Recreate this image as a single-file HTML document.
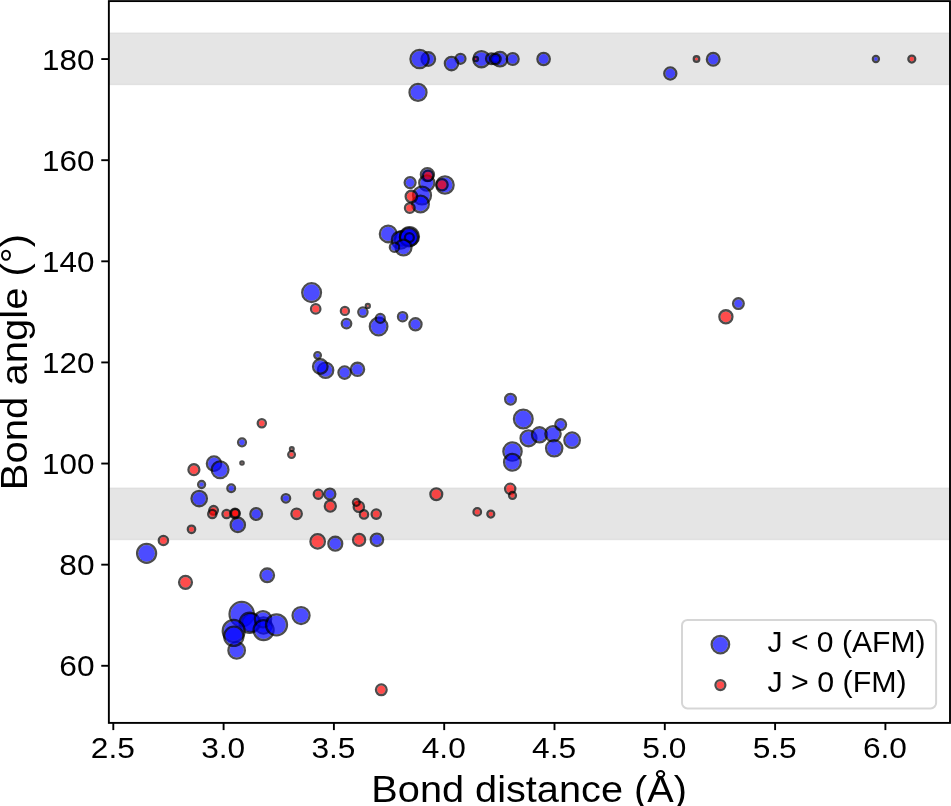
<!DOCTYPE html>
<html><head><meta charset="utf-8"><title>Bond angle vs bond distance</title>
<style>html,body{margin:0;padding:0;background:#fff;}svg{display:block;}text{font-family:"Liberation Sans",sans-serif;fill:#000;}</style>
</head><body>
<svg width="951" height="806" viewBox="0 0 951 806" style="will-change:transform">
<rect x="0" y="0" width="951" height="806" fill="#fff"/>
<rect x="108.86" y="32.49" width="841.14" height="52.66" fill="#e5e5e5"/>
<rect x="108.86" y="32.99" width="841.14" height="1" fill="#dfdfdf"/>
<rect x="108.86" y="83.65" width="841.14" height="1" fill="#dfdfdf"/>
<rect x="108.86" y="487.53" width="841.14" height="52.66" fill="#e5e5e5"/>
<rect x="108.86" y="488.03" width="841.14" height="1" fill="#dfdfdf"/>
<rect x="108.86" y="538.69" width="841.14" height="1" fill="#dfdfdf"/>
<g>
<circle cx="428.30" cy="59.00" r="5.60" fill="#0000ff" fill-opacity="0.7"/><circle cx="428.30" cy="59.00" r="6.75" fill="none" stroke="#000" stroke-opacity="0.7" stroke-width="2.3"/>
<circle cx="419.60" cy="59.00" r="8.00" fill="#0000ff" fill-opacity="0.7"/><circle cx="419.60" cy="59.00" r="9.15" fill="none" stroke="#000" stroke-opacity="0.7" stroke-width="2.3"/>
<circle cx="460.50" cy="58.80" r="3.80" fill="#0000ff" fill-opacity="0.7"/><circle cx="460.50" cy="58.80" r="4.95" fill="none" stroke="#000" stroke-opacity="0.7" stroke-width="2.3"/>
<circle cx="451.50" cy="63.60" r="5.50" fill="#0000ff" fill-opacity="0.7"/><circle cx="451.50" cy="63.60" r="6.65" fill="none" stroke="#000" stroke-opacity="0.7" stroke-width="2.3"/>
<circle cx="481.45" cy="59.15" r="6.95" fill="#0000ff" fill-opacity="0.7"/><circle cx="481.45" cy="59.15" r="8.10" fill="none" stroke="#000" stroke-opacity="0.7" stroke-width="2.3"/>
<circle cx="491.40" cy="58.70" r="4.20" fill="#0000ff" fill-opacity="0.7"/><circle cx="491.40" cy="58.70" r="5.35" fill="none" stroke="#000" stroke-opacity="0.7" stroke-width="2.3"/>
<circle cx="500.00" cy="59.20" r="6.10" fill="#0000ff" fill-opacity="0.7"/><circle cx="500.00" cy="59.20" r="7.25" fill="none" stroke="#000" stroke-opacity="0.7" stroke-width="2.3"/>
<circle cx="495.40" cy="59.00" r="2.60" fill="#0000ff" fill-opacity="0.7"/><circle cx="495.40" cy="59.00" r="3.75" fill="none" stroke="#000" stroke-opacity="0.7" stroke-width="2.3"/>
<circle cx="495.35" cy="59.00" r="4.15" fill="#0000ff" fill-opacity="0.7"/><circle cx="495.35" cy="59.00" r="5.30" fill="none" stroke="#000" stroke-opacity="0.7" stroke-width="2.3"/>
<circle cx="512.70" cy="59.00" r="4.80" fill="#0000ff" fill-opacity="0.7"/><circle cx="512.70" cy="59.00" r="5.95" fill="none" stroke="#000" stroke-opacity="0.7" stroke-width="2.3"/>
<circle cx="543.60" cy="59.00" r="5.05" fill="#0000ff" fill-opacity="0.7"/><circle cx="543.60" cy="59.00" r="6.20" fill="none" stroke="#000" stroke-opacity="0.7" stroke-width="2.3"/>
<circle cx="670.30" cy="73.50" r="4.90" fill="#0000ff" fill-opacity="0.7"/><circle cx="670.30" cy="73.50" r="6.05" fill="none" stroke="#000" stroke-opacity="0.7" stroke-width="2.3"/>
<circle cx="713.20" cy="59.20" r="5.20" fill="#0000ff" fill-opacity="0.7"/><circle cx="713.20" cy="59.20" r="6.35" fill="none" stroke="#000" stroke-opacity="0.7" stroke-width="2.3"/>
<circle cx="875.90" cy="59.00" r="1.90" fill="#0000ff" fill-opacity="0.7"/><circle cx="875.90" cy="59.00" r="3.05" fill="none" stroke="#000" stroke-opacity="0.7" stroke-width="2.3"/>
<circle cx="418.00" cy="92.40" r="7.35" fill="#0000ff" fill-opacity="0.7"/><circle cx="418.00" cy="92.40" r="8.50" fill="none" stroke="#000" stroke-opacity="0.7" stroke-width="2.3"/>
<circle cx="410.10" cy="182.60" r="4.30" fill="#0000ff" fill-opacity="0.7"/><circle cx="410.10" cy="182.60" r="5.45" fill="none" stroke="#000" stroke-opacity="0.7" stroke-width="2.3"/>
<circle cx="427.40" cy="174.60" r="5.40" fill="#0000ff" fill-opacity="0.7"/><circle cx="427.40" cy="174.60" r="6.55" fill="none" stroke="#000" stroke-opacity="0.7" stroke-width="2.3"/>
<circle cx="426.80" cy="183.00" r="6.40" fill="#0000ff" fill-opacity="0.7"/><circle cx="426.80" cy="183.00" r="7.55" fill="none" stroke="#000" stroke-opacity="0.7" stroke-width="2.3"/>
<circle cx="445.00" cy="185.00" r="7.50" fill="#0000ff" fill-opacity="0.7"/><circle cx="445.00" cy="185.00" r="8.65" fill="none" stroke="#000" stroke-opacity="0.7" stroke-width="2.3"/>
<circle cx="422.00" cy="195.50" r="7.80" fill="#0000ff" fill-opacity="0.7"/><circle cx="422.00" cy="195.50" r="8.95" fill="none" stroke="#000" stroke-opacity="0.7" stroke-width="2.3"/>
<circle cx="420.50" cy="204.00" r="7.20" fill="#0000ff" fill-opacity="0.7"/><circle cx="420.50" cy="204.00" r="8.35" fill="none" stroke="#000" stroke-opacity="0.7" stroke-width="2.3"/>
<circle cx="409.40" cy="237.40" r="5.80" fill="#0000ff" fill-opacity="0.7"/><circle cx="409.40" cy="237.40" r="6.95" fill="none" stroke="#000" stroke-opacity="0.7" stroke-width="2.3"/>
<circle cx="388.20" cy="233.90" r="7.20" fill="#0000ff" fill-opacity="0.7"/><circle cx="388.20" cy="233.90" r="8.35" fill="none" stroke="#000" stroke-opacity="0.7" stroke-width="2.3"/>
<circle cx="402.00" cy="238.50" r="6.00" fill="#0000ff" fill-opacity="0.7"/><circle cx="402.00" cy="238.50" r="7.15" fill="none" stroke="#000" stroke-opacity="0.7" stroke-width="2.3"/>
<circle cx="400.50" cy="240.00" r="7.50" fill="#0000ff" fill-opacity="0.7"/><circle cx="400.50" cy="240.00" r="8.65" fill="none" stroke="#000" stroke-opacity="0.7" stroke-width="2.3"/>
<circle cx="409.50" cy="236.50" r="8.30" fill="#0000ff" fill-opacity="0.7"/><circle cx="409.50" cy="236.50" r="9.45" fill="none" stroke="#000" stroke-opacity="0.7" stroke-width="2.3"/>
<circle cx="409.00" cy="237.30" r="8.00" fill="#0000ff" fill-opacity="0.7"/><circle cx="409.00" cy="237.30" r="9.15" fill="none" stroke="#000" stroke-opacity="0.7" stroke-width="2.3"/>
<circle cx="409.40" cy="237.60" r="3.30" fill="#0000ff" fill-opacity="0.7"/><circle cx="409.40" cy="237.60" r="4.45" fill="none" stroke="#000" stroke-opacity="0.7" stroke-width="2.3"/>
<circle cx="403.50" cy="247.50" r="6.80" fill="#0000ff" fill-opacity="0.7"/><circle cx="403.50" cy="247.50" r="7.95" fill="none" stroke="#000" stroke-opacity="0.7" stroke-width="2.3"/>
<circle cx="394.50" cy="247.20" r="3.50" fill="#0000ff" fill-opacity="0.7"/><circle cx="394.50" cy="247.20" r="4.65" fill="none" stroke="#000" stroke-opacity="0.7" stroke-width="2.3"/>
<circle cx="311.60" cy="292.60" r="8.25" fill="#0000ff" fill-opacity="0.7"/><circle cx="311.60" cy="292.60" r="9.40" fill="none" stroke="#000" stroke-opacity="0.7" stroke-width="2.3"/>
<circle cx="346.50" cy="323.60" r="3.60" fill="#0000ff" fill-opacity="0.7"/><circle cx="346.50" cy="323.60" r="4.75" fill="none" stroke="#000" stroke-opacity="0.7" stroke-width="2.3"/>
<circle cx="362.90" cy="312.10" r="3.50" fill="#0000ff" fill-opacity="0.7"/><circle cx="362.90" cy="312.10" r="4.65" fill="none" stroke="#000" stroke-opacity="0.7" stroke-width="2.3"/>
<circle cx="378.60" cy="326.55" r="7.65" fill="#0000ff" fill-opacity="0.7"/><circle cx="378.60" cy="326.55" r="8.80" fill="none" stroke="#000" stroke-opacity="0.7" stroke-width="2.3"/>
<circle cx="380.30" cy="318.40" r="3.30" fill="#0000ff" fill-opacity="0.7"/><circle cx="380.30" cy="318.40" r="4.45" fill="none" stroke="#000" stroke-opacity="0.7" stroke-width="2.3"/>
<circle cx="402.60" cy="316.70" r="3.50" fill="#0000ff" fill-opacity="0.7"/><circle cx="402.60" cy="316.70" r="4.65" fill="none" stroke="#000" stroke-opacity="0.7" stroke-width="2.3"/>
<circle cx="415.50" cy="324.30" r="4.90" fill="#0000ff" fill-opacity="0.7"/><circle cx="415.50" cy="324.30" r="6.05" fill="none" stroke="#000" stroke-opacity="0.7" stroke-width="2.3"/>
<circle cx="317.60" cy="355.35" r="2.15" fill="#0000ff" fill-opacity="0.7"/><circle cx="317.60" cy="355.35" r="3.30" fill="none" stroke="#000" stroke-opacity="0.7" stroke-width="2.3"/>
<circle cx="325.60" cy="370.20" r="6.50" fill="#0000ff" fill-opacity="0.7"/><circle cx="325.60" cy="370.20" r="7.65" fill="none" stroke="#000" stroke-opacity="0.7" stroke-width="2.3"/>
<circle cx="320.30" cy="366.50" r="6.10" fill="#0000ff" fill-opacity="0.7"/><circle cx="320.30" cy="366.50" r="7.25" fill="none" stroke="#000" stroke-opacity="0.7" stroke-width="2.3"/>
<circle cx="344.60" cy="372.60" r="5.00" fill="#0000ff" fill-opacity="0.7"/><circle cx="344.60" cy="372.60" r="6.15" fill="none" stroke="#000" stroke-opacity="0.7" stroke-width="2.3"/>
<circle cx="357.50" cy="369.35" r="5.45" fill="#0000ff" fill-opacity="0.7"/><circle cx="357.50" cy="369.35" r="6.60" fill="none" stroke="#000" stroke-opacity="0.7" stroke-width="2.3"/>
<circle cx="738.40" cy="303.60" r="4.20" fill="#0000ff" fill-opacity="0.7"/><circle cx="738.40" cy="303.60" r="5.35" fill="none" stroke="#000" stroke-opacity="0.7" stroke-width="2.3"/>
<circle cx="510.50" cy="399.20" r="4.20" fill="#0000ff" fill-opacity="0.7"/><circle cx="510.50" cy="399.20" r="5.35" fill="none" stroke="#000" stroke-opacity="0.7" stroke-width="2.3"/>
<circle cx="523.30" cy="419.00" r="8.20" fill="#0000ff" fill-opacity="0.7"/><circle cx="523.30" cy="419.00" r="9.35" fill="none" stroke="#000" stroke-opacity="0.7" stroke-width="2.3"/>
<circle cx="512.50" cy="451.50" r="8.00" fill="#0000ff" fill-opacity="0.7"/><circle cx="512.50" cy="451.50" r="9.15" fill="none" stroke="#000" stroke-opacity="0.7" stroke-width="2.3"/>
<circle cx="512.40" cy="462.30" r="7.20" fill="#0000ff" fill-opacity="0.7"/><circle cx="512.40" cy="462.30" r="8.35" fill="none" stroke="#000" stroke-opacity="0.7" stroke-width="2.3"/>
<circle cx="528.50" cy="438.30" r="6.80" fill="#0000ff" fill-opacity="0.7"/><circle cx="528.50" cy="438.30" r="7.95" fill="none" stroke="#000" stroke-opacity="0.7" stroke-width="2.3"/>
<circle cx="539.50" cy="434.80" r="6.40" fill="#0000ff" fill-opacity="0.7"/><circle cx="539.50" cy="434.80" r="7.55" fill="none" stroke="#000" stroke-opacity="0.7" stroke-width="2.3"/>
<circle cx="553.00" cy="433.80" r="6.50" fill="#0000ff" fill-opacity="0.7"/><circle cx="553.00" cy="433.80" r="7.65" fill="none" stroke="#000" stroke-opacity="0.7" stroke-width="2.3"/>
<circle cx="554.20" cy="448.30" r="7.00" fill="#0000ff" fill-opacity="0.7"/><circle cx="554.20" cy="448.30" r="8.15" fill="none" stroke="#000" stroke-opacity="0.7" stroke-width="2.3"/>
<circle cx="560.70" cy="424.60" r="4.20" fill="#0000ff" fill-opacity="0.7"/><circle cx="560.70" cy="424.60" r="5.35" fill="none" stroke="#000" stroke-opacity="0.7" stroke-width="2.3"/>
<circle cx="572.10" cy="440.20" r="6.60" fill="#0000ff" fill-opacity="0.7"/><circle cx="572.10" cy="440.20" r="7.75" fill="none" stroke="#000" stroke-opacity="0.7" stroke-width="2.3"/>
<circle cx="214.00" cy="463.60" r="6.00" fill="#0000ff" fill-opacity="0.7"/><circle cx="214.00" cy="463.60" r="7.15" fill="none" stroke="#000" stroke-opacity="0.7" stroke-width="2.3"/>
<circle cx="220.10" cy="469.80" r="7.20" fill="#0000ff" fill-opacity="0.7"/><circle cx="220.10" cy="469.80" r="8.35" fill="none" stroke="#000" stroke-opacity="0.7" stroke-width="2.3"/>
<circle cx="201.60" cy="484.50" r="2.35" fill="#0000ff" fill-opacity="0.7"/><circle cx="201.60" cy="484.50" r="3.50" fill="none" stroke="#000" stroke-opacity="0.7" stroke-width="2.3"/>
<circle cx="199.20" cy="498.55" r="6.55" fill="#0000ff" fill-opacity="0.7"/><circle cx="199.20" cy="498.55" r="7.70" fill="none" stroke="#000" stroke-opacity="0.7" stroke-width="2.3"/>
<circle cx="231.20" cy="488.20" r="2.70" fill="#0000ff" fill-opacity="0.7"/><circle cx="231.20" cy="488.20" r="3.85" fill="none" stroke="#000" stroke-opacity="0.7" stroke-width="2.3"/>
<circle cx="237.80" cy="524.90" r="6.00" fill="#0000ff" fill-opacity="0.7"/><circle cx="237.80" cy="524.90" r="7.15" fill="none" stroke="#000" stroke-opacity="0.7" stroke-width="2.3"/>
<circle cx="256.20" cy="514.00" r="4.70" fill="#0000ff" fill-opacity="0.7"/><circle cx="256.20" cy="514.00" r="5.85" fill="none" stroke="#000" stroke-opacity="0.7" stroke-width="2.3"/>
<circle cx="242.00" cy="442.35" r="2.80" fill="#0000ff" fill-opacity="0.7"/><circle cx="242.00" cy="442.35" r="3.95" fill="none" stroke="#000" stroke-opacity="0.7" stroke-width="2.3"/>
<circle cx="285.90" cy="498.30" r="3.10" fill="#0000ff" fill-opacity="0.7"/><circle cx="285.90" cy="498.30" r="4.25" fill="none" stroke="#000" stroke-opacity="0.7" stroke-width="2.3"/>
<circle cx="329.90" cy="494.00" r="4.30" fill="#0000ff" fill-opacity="0.7"/><circle cx="329.90" cy="494.00" r="5.45" fill="none" stroke="#000" stroke-opacity="0.7" stroke-width="2.3"/>
<circle cx="335.30" cy="543.70" r="5.80" fill="#0000ff" fill-opacity="0.7"/><circle cx="335.30" cy="543.70" r="6.95" fill="none" stroke="#000" stroke-opacity="0.7" stroke-width="2.3"/>
<circle cx="376.90" cy="539.80" r="5.05" fill="#0000ff" fill-opacity="0.7"/><circle cx="376.90" cy="539.80" r="6.20" fill="none" stroke="#000" stroke-opacity="0.7" stroke-width="2.3"/>
<circle cx="146.60" cy="553.30" r="8.35" fill="#0000ff" fill-opacity="0.7"/><circle cx="146.60" cy="553.30" r="9.50" fill="none" stroke="#000" stroke-opacity="0.7" stroke-width="2.3"/>
<circle cx="267.20" cy="575.30" r="5.65" fill="#0000ff" fill-opacity="0.7"/><circle cx="267.20" cy="575.30" r="6.80" fill="none" stroke="#000" stroke-opacity="0.7" stroke-width="2.3"/>
<circle cx="301.05" cy="615.55" r="7.35" fill="#0000ff" fill-opacity="0.7"/><circle cx="301.05" cy="615.55" r="8.50" fill="none" stroke="#000" stroke-opacity="0.7" stroke-width="2.3"/>
<circle cx="241.70" cy="614.10" r="11.00" fill="#0000ff" fill-opacity="0.7"/><circle cx="241.70" cy="614.10" r="12.15" fill="none" stroke="#000" stroke-opacity="0.7" stroke-width="2.3"/>
<circle cx="251.00" cy="622.60" r="7.60" fill="#0000ff" fill-opacity="0.7"/><circle cx="251.00" cy="622.60" r="8.75" fill="none" stroke="#000" stroke-opacity="0.7" stroke-width="2.3"/>
<circle cx="263.50" cy="625.50" r="7.00" fill="#0000ff" fill-opacity="0.7"/><circle cx="263.50" cy="625.50" r="8.15" fill="none" stroke="#000" stroke-opacity="0.7" stroke-width="2.3"/>
<circle cx="249.80" cy="622.70" r="9.00" fill="#0000ff" fill-opacity="0.7"/><circle cx="249.80" cy="622.70" r="10.15" fill="none" stroke="#000" stroke-opacity="0.7" stroke-width="2.3"/>
<circle cx="263.00" cy="619.20" r="7.00" fill="#0000ff" fill-opacity="0.7"/><circle cx="263.00" cy="619.20" r="8.15" fill="none" stroke="#000" stroke-opacity="0.7" stroke-width="2.3"/>
<circle cx="263.60" cy="630.05" r="8.85" fill="#0000ff" fill-opacity="0.7"/><circle cx="263.60" cy="630.05" r="10.00" fill="none" stroke="#000" stroke-opacity="0.7" stroke-width="2.3"/>
<circle cx="276.50" cy="624.80" r="9.35" fill="#0000ff" fill-opacity="0.7"/><circle cx="276.50" cy="624.80" r="10.50" fill="none" stroke="#000" stroke-opacity="0.7" stroke-width="2.3"/>
<circle cx="236.65" cy="650.45" r="7.10" fill="#0000ff" fill-opacity="0.7"/><circle cx="236.65" cy="650.45" r="8.25" fill="none" stroke="#000" stroke-opacity="0.7" stroke-width="2.3"/>
<circle cx="233.70" cy="630.90" r="9.80" fill="#0000ff" fill-opacity="0.7"/><circle cx="233.70" cy="630.90" r="10.95" fill="none" stroke="#000" stroke-opacity="0.7" stroke-width="2.3"/>
<circle cx="233.80" cy="636.30" r="8.50" fill="#0000ff" fill-opacity="0.7"/><circle cx="233.80" cy="636.30" r="9.65" fill="none" stroke="#000" stroke-opacity="0.7" stroke-width="2.3"/>
<circle cx="475.80" cy="59.07" r="1.00" fill="#ff0000" fill-opacity="0.7"/><circle cx="475.80" cy="59.07" r="2.15" fill="none" stroke="#000" stroke-opacity="0.7" stroke-width="2.3"/>
<circle cx="696.50" cy="59.00" r="1.60" fill="#ff0000" fill-opacity="0.7"/><circle cx="696.50" cy="59.00" r="2.75" fill="none" stroke="#000" stroke-opacity="0.7" stroke-width="2.3"/>
<circle cx="911.80" cy="59.10" r="2.30" fill="#ff0000" fill-opacity="0.7"/><circle cx="911.80" cy="59.10" r="3.45" fill="none" stroke="#000" stroke-opacity="0.7" stroke-width="2.3"/>
<circle cx="428.00" cy="175.80" r="4.00" fill="#ff0000" fill-opacity="0.7"/><circle cx="428.00" cy="175.80" r="5.15" fill="none" stroke="#000" stroke-opacity="0.7" stroke-width="2.3"/>
<circle cx="442.00" cy="184.80" r="4.50" fill="#ff0000" fill-opacity="0.7"/><circle cx="442.00" cy="184.80" r="5.65" fill="none" stroke="#000" stroke-opacity="0.7" stroke-width="2.3"/>
<circle cx="411.40" cy="196.50" r="4.60" fill="#ff0000" fill-opacity="0.7"/><circle cx="411.40" cy="196.50" r="5.75" fill="none" stroke="#000" stroke-opacity="0.7" stroke-width="2.3"/>
<circle cx="409.80" cy="208.10" r="3.70" fill="#ff0000" fill-opacity="0.7"/><circle cx="409.80" cy="208.10" r="4.85" fill="none" stroke="#000" stroke-opacity="0.7" stroke-width="2.3"/>
<circle cx="315.70" cy="308.90" r="3.55" fill="#ff0000" fill-opacity="0.7"/><circle cx="315.70" cy="308.90" r="4.70" fill="none" stroke="#000" stroke-opacity="0.7" stroke-width="2.3"/>
<circle cx="344.90" cy="310.90" r="2.90" fill="#ff0000" fill-opacity="0.7"/><circle cx="344.90" cy="310.90" r="4.05" fill="none" stroke="#000" stroke-opacity="0.7" stroke-width="2.3"/>
<circle cx="367.80" cy="305.90" r="0.85" fill="#ff0000" fill-opacity="0.7"/><circle cx="367.80" cy="305.90" r="2.00" fill="none" stroke="#000" stroke-opacity="0.7" stroke-width="2.3"/>
<circle cx="725.90" cy="316.80" r="5.40" fill="#ff0000" fill-opacity="0.7"/><circle cx="725.90" cy="316.80" r="6.55" fill="none" stroke="#000" stroke-opacity="0.7" stroke-width="2.3"/>
<circle cx="193.90" cy="469.70" r="4.30" fill="#ff0000" fill-opacity="0.7"/><circle cx="193.90" cy="469.70" r="5.45" fill="none" stroke="#000" stroke-opacity="0.7" stroke-width="2.3"/>
<circle cx="213.60" cy="510.30" r="3.15" fill="#ff0000" fill-opacity="0.7"/><circle cx="213.60" cy="510.30" r="4.30" fill="none" stroke="#000" stroke-opacity="0.7" stroke-width="2.3"/>
<circle cx="212.30" cy="514.06" r="3.00" fill="#ff0000" fill-opacity="0.7"/><circle cx="212.30" cy="514.06" r="4.15" fill="none" stroke="#000" stroke-opacity="0.7" stroke-width="2.3"/>
<circle cx="226.60" cy="514.00" r="3.00" fill="#ff0000" fill-opacity="0.7"/><circle cx="226.60" cy="514.00" r="4.15" fill="none" stroke="#000" stroke-opacity="0.7" stroke-width="2.3"/>
<circle cx="235.00" cy="513.50" r="3.60" fill="#ff0000" fill-opacity="0.7"/><circle cx="235.00" cy="513.50" r="4.75" fill="none" stroke="#000" stroke-opacity="0.7" stroke-width="2.3"/>
<circle cx="235.20" cy="513.30" r="3.00" fill="#ff0000" fill-opacity="0.7"/><circle cx="235.20" cy="513.30" r="4.15" fill="none" stroke="#000" stroke-opacity="0.7" stroke-width="2.3"/>
<circle cx="163.40" cy="540.50" r="3.50" fill="#ff0000" fill-opacity="0.7"/><circle cx="163.40" cy="540.50" r="4.65" fill="none" stroke="#000" stroke-opacity="0.7" stroke-width="2.3"/>
<circle cx="191.50" cy="529.30" r="2.55" fill="#ff0000" fill-opacity="0.7"/><circle cx="191.50" cy="529.30" r="3.70" fill="none" stroke="#000" stroke-opacity="0.7" stroke-width="2.3"/>
<circle cx="261.80" cy="423.20" r="2.95" fill="#ff0000" fill-opacity="0.7"/><circle cx="261.80" cy="423.20" r="4.10" fill="none" stroke="#000" stroke-opacity="0.7" stroke-width="2.3"/>
<circle cx="242.00" cy="463.00" r="0.50" fill="#ff0000" fill-opacity="0.7"/><circle cx="242.00" cy="463.00" r="1.65" fill="none" stroke="#000" stroke-opacity="0.7" stroke-width="2.3"/>
<circle cx="291.55" cy="454.56" r="2.20" fill="#ff0000" fill-opacity="0.7"/><circle cx="291.55" cy="454.56" r="3.35" fill="none" stroke="#000" stroke-opacity="0.7" stroke-width="2.3"/>
<circle cx="291.80" cy="449.10" r="0.70" fill="#ff0000" fill-opacity="0.7"/><circle cx="291.80" cy="449.10" r="1.85" fill="none" stroke="#000" stroke-opacity="0.7" stroke-width="2.3"/>
<circle cx="296.60" cy="513.80" r="4.05" fill="#ff0000" fill-opacity="0.7"/><circle cx="296.60" cy="513.80" r="5.20" fill="none" stroke="#000" stroke-opacity="0.7" stroke-width="2.3"/>
<circle cx="318.30" cy="494.20" r="3.40" fill="#ff0000" fill-opacity="0.7"/><circle cx="318.30" cy="494.20" r="4.55" fill="none" stroke="#000" stroke-opacity="0.7" stroke-width="2.3"/>
<circle cx="330.30" cy="506.05" r="4.35" fill="#ff0000" fill-opacity="0.7"/><circle cx="330.30" cy="506.05" r="5.50" fill="none" stroke="#000" stroke-opacity="0.7" stroke-width="2.3"/>
<circle cx="317.66" cy="541.40" r="6.10" fill="#ff0000" fill-opacity="0.7"/><circle cx="317.66" cy="541.40" r="7.25" fill="none" stroke="#000" stroke-opacity="0.7" stroke-width="2.3"/>
<circle cx="358.85" cy="506.70" r="4.00" fill="#ff0000" fill-opacity="0.7"/><circle cx="358.85" cy="506.70" r="5.15" fill="none" stroke="#000" stroke-opacity="0.7" stroke-width="2.3"/>
<circle cx="356.35" cy="502.40" r="2.26" fill="#ff0000" fill-opacity="0.7"/><circle cx="356.35" cy="502.40" r="3.41" fill="none" stroke="#000" stroke-opacity="0.7" stroke-width="2.3"/>
<circle cx="364.00" cy="514.40" r="3.00" fill="#ff0000" fill-opacity="0.7"/><circle cx="364.00" cy="514.40" r="4.15" fill="none" stroke="#000" stroke-opacity="0.7" stroke-width="2.3"/>
<circle cx="376.25" cy="514.10" r="3.50" fill="#ff0000" fill-opacity="0.7"/><circle cx="376.25" cy="514.10" r="4.65" fill="none" stroke="#000" stroke-opacity="0.7" stroke-width="2.3"/>
<circle cx="359.10" cy="539.90" r="4.90" fill="#ff0000" fill-opacity="0.7"/><circle cx="359.10" cy="539.90" r="6.05" fill="none" stroke="#000" stroke-opacity="0.7" stroke-width="2.3"/>
<circle cx="436.30" cy="494.20" r="4.77" fill="#ff0000" fill-opacity="0.7"/><circle cx="436.30" cy="494.20" r="5.92" fill="none" stroke="#000" stroke-opacity="0.7" stroke-width="2.3"/>
<circle cx="477.25" cy="511.90" r="2.60" fill="#ff0000" fill-opacity="0.7"/><circle cx="477.25" cy="511.90" r="3.75" fill="none" stroke="#000" stroke-opacity="0.7" stroke-width="2.3"/>
<circle cx="490.80" cy="514.10" r="2.30" fill="#ff0000" fill-opacity="0.7"/><circle cx="490.80" cy="514.10" r="3.45" fill="none" stroke="#000" stroke-opacity="0.7" stroke-width="2.3"/>
<circle cx="510.20" cy="488.80" r="3.95" fill="#ff0000" fill-opacity="0.7"/><circle cx="510.20" cy="488.80" r="5.10" fill="none" stroke="#000" stroke-opacity="0.7" stroke-width="2.3"/>
<circle cx="512.50" cy="495.40" r="2.30" fill="#ff0000" fill-opacity="0.7"/><circle cx="512.50" cy="495.40" r="3.45" fill="none" stroke="#000" stroke-opacity="0.7" stroke-width="2.3"/>
<circle cx="185.50" cy="582.30" r="5.28" fill="#ff0000" fill-opacity="0.7"/><circle cx="185.50" cy="582.30" r="6.43" fill="none" stroke="#000" stroke-opacity="0.7" stroke-width="2.3"/>
<circle cx="381.30" cy="689.80" r="4.20" fill="#ff0000" fill-opacity="0.7"/><circle cx="381.30" cy="689.80" r="5.35" fill="none" stroke="#000" stroke-opacity="0.7" stroke-width="2.3"/>
</g>
<rect x="108.86" y="1.10" width="841.14" height="721.80" fill="none" stroke="#000" stroke-width="1.9"/>
<line x1="113.30" y1="722.90" x2="113.30" y2="730.10" stroke="#000" stroke-width="1.9"/>
<text transform="translate(112.85,757.55) scale(1.0522,1)" x="0" y="0" font-size="30.1" text-anchor="middle">2.5</text>
<line x1="223.60" y1="722.90" x2="223.60" y2="730.10" stroke="#000" stroke-width="1.9"/>
<text transform="translate(223.15,757.55) scale(1.0522,1)" x="0" y="0" font-size="30.1" text-anchor="middle">3.0</text>
<line x1="333.90" y1="722.90" x2="333.90" y2="730.10" stroke="#000" stroke-width="1.9"/>
<text transform="translate(333.45,757.55) scale(1.0522,1)" x="0" y="0" font-size="30.1" text-anchor="middle">3.5</text>
<line x1="444.20" y1="722.90" x2="444.20" y2="730.10" stroke="#000" stroke-width="1.9"/>
<text transform="translate(443.75,757.55) scale(1.0522,1)" x="0" y="0" font-size="30.1" text-anchor="middle">4.0</text>
<line x1="554.50" y1="722.90" x2="554.50" y2="730.10" stroke="#000" stroke-width="1.9"/>
<text transform="translate(554.05,757.55) scale(1.0522,1)" x="0" y="0" font-size="30.1" text-anchor="middle">4.5</text>
<line x1="664.80" y1="722.90" x2="664.80" y2="730.10" stroke="#000" stroke-width="1.9"/>
<text transform="translate(664.35,757.55) scale(1.0522,1)" x="0" y="0" font-size="30.1" text-anchor="middle">5.0</text>
<line x1="775.10" y1="722.90" x2="775.10" y2="730.10" stroke="#000" stroke-width="1.9"/>
<text transform="translate(774.65,757.55) scale(1.0522,1)" x="0" y="0" font-size="30.1" text-anchor="middle">5.5</text>
<line x1="885.40" y1="722.90" x2="885.40" y2="730.10" stroke="#000" stroke-width="1.9"/>
<text transform="translate(884.95,757.55) scale(1.0522,1)" x="0" y="0" font-size="30.1" text-anchor="middle">6.0</text>
<line x1="101.26" y1="665.79" x2="108.86" y2="665.79" stroke="#000" stroke-width="1.9"/>
<text transform="translate(94.53,676.49) scale(1.0528,1)" x="0" y="0" font-size="30.1" text-anchor="end">60</text>
<line x1="101.26" y1="564.67" x2="108.86" y2="564.67" stroke="#000" stroke-width="1.9"/>
<text transform="translate(94.53,575.37) scale(1.0528,1)" x="0" y="0" font-size="30.1" text-anchor="end">80</text>
<line x1="101.26" y1="463.55" x2="108.86" y2="463.55" stroke="#000" stroke-width="1.9"/>
<text transform="translate(94.50,474.25) scale(1.0432,1)" x="0" y="0" font-size="30.1" text-anchor="end">100</text>
<line x1="101.26" y1="362.43" x2="108.86" y2="362.43" stroke="#000" stroke-width="1.9"/>
<text transform="translate(94.50,373.13) scale(1.0432,1)" x="0" y="0" font-size="30.1" text-anchor="end">120</text>
<line x1="101.26" y1="261.31" x2="108.86" y2="261.31" stroke="#000" stroke-width="1.9"/>
<text transform="translate(94.50,272.01) scale(1.0432,1)" x="0" y="0" font-size="30.1" text-anchor="end">140</text>
<line x1="101.26" y1="160.19" x2="108.86" y2="160.19" stroke="#000" stroke-width="1.9"/>
<text transform="translate(94.50,170.89) scale(1.0432,1)" x="0" y="0" font-size="30.1" text-anchor="end">160</text>
<line x1="101.26" y1="59.07" x2="108.86" y2="59.07" stroke="#000" stroke-width="1.9"/>
<text transform="translate(94.50,69.77) scale(1.0432,1)" x="0" y="0" font-size="30.1" text-anchor="end">180</text>
<text transform="translate(371.35,801.70) scale(1.0617,1)" x="0" y="0" font-size="37.4" text-anchor="start">Bond distance (Å)</text>
<text transform="translate(27.00,490.18) rotate(-90) scale(1.0708,1)" x="0" y="0" font-size="37.4" text-anchor="start">Bond angle (°)</text>
<rect x="682.0" y="619.9" width="254.1" height="88.5" rx="5.5" ry="5.5" fill="#fff" fill-opacity="0.8" stroke="#cccccc" stroke-opacity="0.8" stroke-width="2"/>
<circle cx="720.40" cy="644.55" r="7.60" fill="#0000ff" fill-opacity="0.7"/><circle cx="720.40" cy="644.55" r="8.75" fill="none" stroke="#000" stroke-opacity="0.7" stroke-width="2.3"/>
<circle cx="720.40" cy="685.10" r="3.80" fill="#ff0000" fill-opacity="0.7"/><circle cx="720.40" cy="685.10" r="4.95" fill="none" stroke="#000" stroke-opacity="0.7" stroke-width="2.3"/>
<text transform="translate(767.47,652.10) scale(1.0005,1)" x="0" y="0" font-size="30.1" text-anchor="start">J &lt; 0 (AFM)</text>
<text transform="translate(767.44,692.30) scale(1.0092,1)" x="0" y="0" font-size="30.1" text-anchor="start">J &gt; 0 (FM)</text>
</svg>
</body></html>
